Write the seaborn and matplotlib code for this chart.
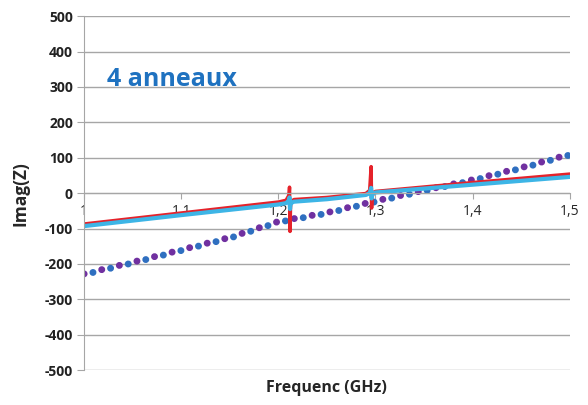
import seaborn as sns
import matplotlib.pyplot as plt
import pandas as pd

# courbes pleines (avec résonances vers 1,21 et 1,296 GHz)
freq_res = [1.0, 1.1, 1.2, 1.208, 1.211, 1.2115, 1.212, 1.2125, 1.213, 1.216,
            1.25, 1.29, 1.294, 1.2955, 1.296, 1.2965, 1.298, 1.30, 1.4, 1.5]
imag_rouge = [-87, -56, -25, -20, -5, 17, -108, -40, -25, -18,
              -12, -1, 8, 75, -42, -10, 2, 5, 30, 54]
imag_cyan = [-93, -62, -32, -28, -20, -12, -45, -32, -28, -24,
             -17, -5, 0, 15, -15, -5, 0, 2, 24, 46]

# courbes pointillées
freq_pts = [1.0, 1.05, 1.1, 1.15, 1.2, 1.25, 1.3, 1.35, 1.4, 1.45, 1.5]
imag_violet = [-228, -195, -160, -125, -80, -55, -22, 8, 38, 72, 110]
imag_bleu = [-230, -197, -162, -127, -82, -57, -24, 6, 36, 70, 108]

x_ticks = [1.0, 1.1, 1.2, 1.3, 1.4, 1.5]
x_labels = ["1", "1,1", "1,2", "1,3", "1,4", "1,5"]
y_ticks = list(range(-500, 501, 100))


def main():
    sns.set_style("white")
    plt.rcParams['font.family'] = ['Open Sans', 'DejaVu Sans']

    fig = plt.figure(figsize=(5.88, 4.05), dpi=100)
    ax = fig.add_axes([0.143, 0.086, 0.826, 0.874])

    df_res = pd.DataFrame({"f": freq_res, "rouge": imag_rouge, "cyan": imag_cyan})
    df_pts = pd.DataFrame({"f": freq_pts, "violet": imag_violet, "bleu": imag_bleu})

    sns.lineplot(data=df_pts, x="f", y="violet", ax=ax, color="#7030A0",
                 linewidth=5, estimator=None, sort=False,
                 linestyle=(0, (0.01, 2.6)), dash_capstyle="round")
    sns.lineplot(data=df_pts, x="f", y="bleu", ax=ax, color="#2F6FC0",
                 linewidth=5, estimator=None, sort=False,
                 linestyle=(1.3, (0.01, 2.6)), dash_capstyle="round")
    sns.lineplot(data=df_res, x="f", y="rouge", ax=ax, color="#E5222A",
                 linewidth=2.5, estimator=None, sort=False)
    sns.lineplot(data=df_res, x="f", y="cyan", ax=ax, color="#3DB5E6",
                 linewidth=3, estimator=None, sort=False)

    ax.set_xlim(1.0, 1.5)
    ax.set_ylim(-500, 500)
    ax.set_yticks(y_ticks)
    ax.set_yticklabels([str(v) for v in y_ticks], fontsize=10, fontweight="bold",
                       color="#222222")
    ax.set_xticks(x_ticks)
    ax.set_xticklabels(x_labels, fontsize=10, fontweight="bold", color="#222222")

    ax.grid(axis="y", color="#A6A6A6", linewidth=1)
    ax.set_axisbelow(True)
    for s in ["top", "right"]:
        ax.spines[s].set_visible(False)
    ax.spines["left"].set_color("#A6A6A6")
    ax.spines["bottom"].set_color("#A6A6A6")
    ax.spines["bottom"].set_position(("data", 0))
    ax.tick_params(axis="y", length=5, color="#A6A6A6", left=True, pad=3)
    ax.tick_params(axis="x", length=4, color="#A6A6A6", bottom=True, pad=4)

    ax.set_xlabel("")
    ax.set_ylabel("Imag(Z)", fontsize=12.5, fontweight="bold")
    ax.yaxis.set_label_coords(-0.112, 0.5)
    fig.text(0.555, 0.042, "Frequenc (GHz)", ha="center", va="center",
             fontsize=11.5, fontweight="bold")
    ax.text(1.024, 320, "4 anneaux", fontsize=18, fontweight="bold",
            color="#1F72C0", va="center")

    plt.savefig("out.png", dpi=100)


main()
